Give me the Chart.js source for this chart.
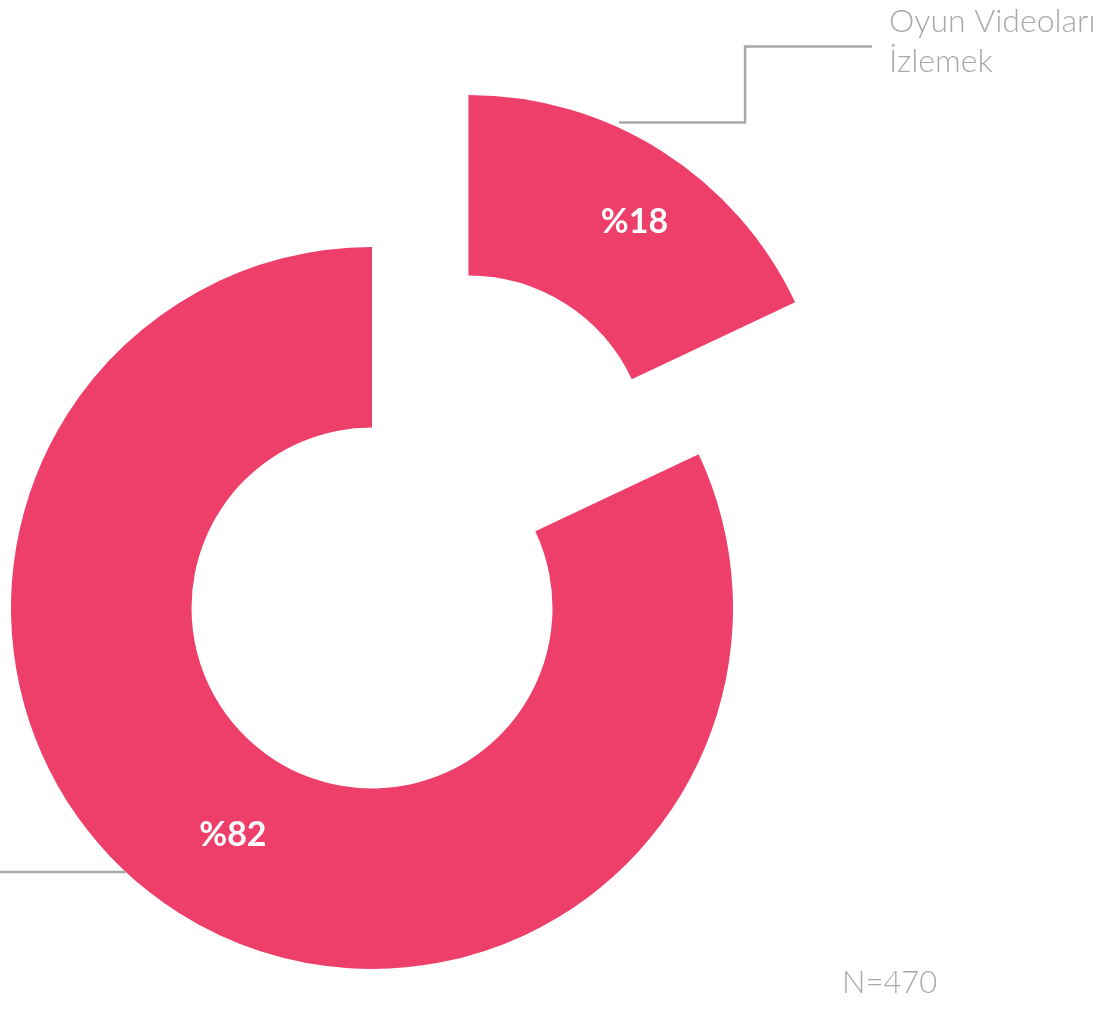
<!DOCTYPE html>
<html>
<head>
<meta charset="utf-8">
<script src="https://cdn.jsdelivr.net/npm/chart.js@4"></script>
<style>
  body { margin: 0; background: #fff; }
  #wrap { width: 1107px; height: 1029px; }
</style>
</head>
<body>
<div id="wrap"><canvas id="myChart" width="1107" height="1029"></canvas></div>
<script>
// data
const labels = ['Oyun Videoları İzlemek', 'Diğer'];
const values = [18, 82];
const valueLabels = ['%18', '%82'];
const sampleNote = 'N=470';

const pink = '#EE3F6A';
const grey = '#A8A8A8';
const explode = [180, 0]; // slice pulled out of the ring, px

function arcGeom(el, i) {
  const p = el.getProps(['x', 'y', 'startAngle', 'endAngle', 'innerRadius', 'outerRadius'], true);
  const mid = (p.startAngle + p.endAngle) / 2;
  p.cx = p.x + Math.cos(mid) * explode[i];
  p.cy = p.y + Math.sin(mid) * explode[i];
  return p;
}

const donutPlugin = {
  id: 'donutDraw',
  beforeDatasetsDraw(chart) {
    const ctx = chart.ctx;
    const arcs = chart.getDatasetMeta(0).data;
    arcs.forEach((el, i) => {
      const p = arcGeom(el, i);
      ctx.save();
      ctx.translate(p.cx - p.x, p.cy - p.y);
      el.draw(ctx);
      ctx.restore();
    });
    return false;
  },
  afterDraw(chart) {
    const ctx = chart.ctx;
    const arcs = chart.getDatasetMeta(0).data;
    const g = arcs.map((el, i) => arcGeom(el, i));

    // value labels
    const nudge = [[21, -5], [6, -2]];
    ctx.save();
    ctx.fillStyle = '#fff';
    ctx.font = 'bold 34px Lato';
    ctx.textAlign = 'center';
    ctx.textBaseline = 'middle';
    g.forEach((p, i) => {
      const mid = (p.startAngle + p.endAngle) / 2;
      const r = (p.innerRadius + p.outerRadius) / 2;
      ctx.fillText(valueLabels[i], p.cx + Math.cos(mid) * r + nudge[i][0], p.cy + Math.sin(mid) * r + nudge[i][1]);
    });
    ctx.restore();

    // leader lines
    ctx.save();
    ctx.strokeStyle = grey;
    ctx.lineWidth = 2.5;
    let p = g[0];
    let a = p.startAngle + 0.375 * (p.endAngle - p.startAngle);
    let ax = p.cx + Math.cos(a) * (p.outerRadius + 5);
    let ay = p.cy + Math.sin(a) * (p.outerRadius + 5);
    ctx.beginPath();
    ctx.moveTo(ax, ay);
    ctx.lineTo(ax + 126, ay);
    ctx.lineTo(ax + 126, ay - 76);
    ctx.lineTo(ax + 253, ay - 76);
    ctx.stroke();

    ctx.fillStyle = grey;
    ctx.font = '300 32px Lato';
    ctx.textAlign = 'left';
    ctx.textBaseline = 'middle';
    const words = labels[0].split(' ');
    ctx.fillText(words[0] + ' ' + words[1], ax + 270, ay - 101);
    ctx.fillText(words[2], ax + 270, ay - 61);

    p = g[1];
    a = p.startAngle + 0.536 * (p.endAngle - p.startAngle);
    ax = p.cx + Math.cos(a) * p.outerRadius;
    ay = p.cy + Math.sin(a) * p.outerRadius;
    ctx.beginPath();
    ctx.moveTo(ax, ay);
    ctx.lineTo(0, ay);
    ctx.stroke();

    // sample size
    ctx.textAlign = 'left';
    ctx.font = '300 31px Lato';
    ctx.fillText(sampleNote, 842, 983);
    ctx.restore();
  }
};

const config = {
  type: 'doughnut',
  data: {
    labels: labels,
    datasets: [{
      data: values,
      backgroundColor: pink,
      borderWidth: 0,
      hoverOffset: 0
    }]
  },
  options: {
    responsive: false,
    animation: false,
    radius: 361,
    cutout: '50%',
    layout: { padding: { left: 0, right: 363, top: 187, bottom: 0 } },
    plugins: {
      legend: { display: false },
      tooltip: { enabled: false }
    }
  },
  plugins: [donutPlugin]
};

const myChart = new Chart(document.getElementById('myChart'), config);
</script>
</body>
</html>
